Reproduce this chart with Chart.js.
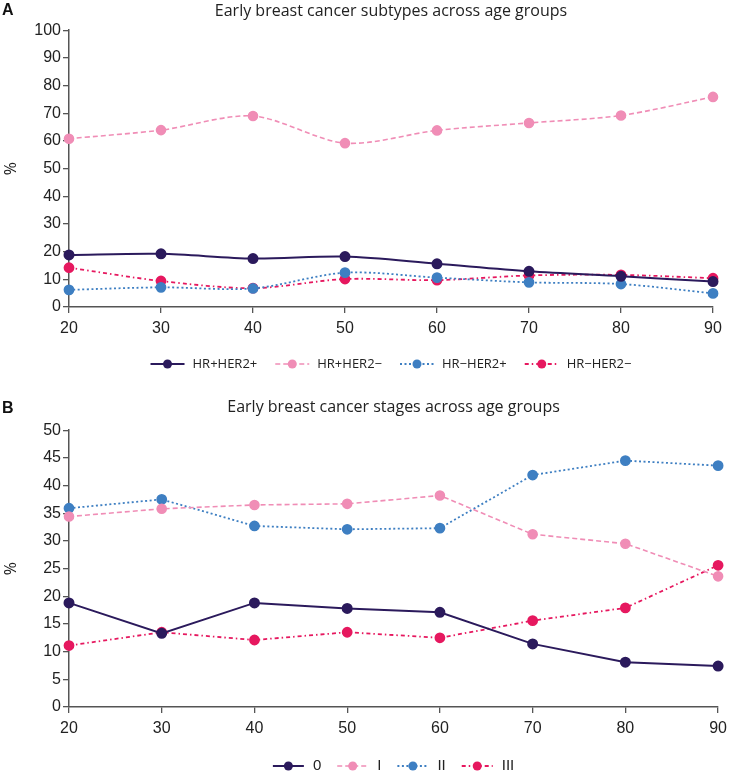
<!DOCTYPE html>
<html>
<head>
<meta charset="utf-8">
<script src="https://cdn.jsdelivr.net/npm/chart.js@4"></script>
<style>
  html, body { margin: 0; padding: 0; background: #fff; }
  body { width: 733px; height: 773px; position: relative; overflow: hidden; }
  .panel { position: absolute; left: 0; width: 733px; }
  .letter { position: absolute; left: 2px; font: bold 16px "Liberation Sans", Arial, sans-serif; color: #111; }
  canvas { display: block; }
</style>
</head>
<body>
<div class="panel" style="top:0;height:390px"><canvas id="cA" width="733" height="390"></canvas></div>
<div class="panel" style="top:392px;height:381px"><canvas id="cB" width="733" height="381"></canvas></div>
<div class="letter" style="top:1px">A</div>
<div class="letter" style="top:399px">B</div>
<script>
// ---- Data ----
const ages = [20, 30, 40, 50, 60, 70, 80, 90];

const titleA = "Early breast cancer subtypes across age groups";
const seriesNamesA = ["HR+HER2+", "HR+HER2\u2212", "HR\u2212HER2+", "HR\u2212HER2\u2212"];
const hrPosHer2Pos = [18.8, 19.2, 17.5, 18.2, 15.6, 12.9, 11.1, 9.2];
const hrPosHer2Neg = [60.8, 63.9, 69.0, 59.2, 63.8, 66.5, 69.2, 75.9];
const hrNegHer2Pos = [6.2, 7.1, 6.7, 12.4, 10.6, 8.9, 8.3, 4.9];
const hrNegHer2Neg = [14.2, 9.4, 6.8, 10.1, 9.7, 11.4, 11.6, 10.4];
const yTicksA = { min: 0, max: 100, step: 10 };

const titleB = "Early breast cancer stages across age groups";
const seriesNamesB = ["0", "I", "II", "III"];
const stage0 = [18.8, 13.3, 18.8, 17.8, 17.1, 11.4, 8.1, 7.4];
const stageI = [34.4, 35.8, 36.5, 36.7, 38.2, 31.2, 29.5, 23.6];
const stageII = [35.9, 37.5, 32.7, 32.1, 32.3, 41.9, 44.5, 43.6];
const stageIII = [11.1, 13.5, 12.1, 13.5, 12.5, 15.6, 17.9, 25.6];
const yTicksB = { min: 0, max: 50, step: 5 };

// ---- Styles ----
const COL = ["#2b1a5c", "#f08db6", "#3e7fc2", "#e6185f"];
const DASH = [[], [5, 3], [2, 2.5], [4, 3, 1.5, 3]];
const WID = [2, 1.6, 1.8, 1.8];
const tickFont = { family: "'Liberation Sans Narrow', 'Arial Narrow', 'Liberation Sans', Arial, sans-serif", size: 16 };
const titleFontFam = "'Open Sans', 'Noto Sans', sans-serif";
const AXIS = "#555";

function makeDatasets(names, arrays) {
  return arrays.map((arr, i) => ({
    label: names[i],
    data: arr,
    borderColor: COL[i],
    backgroundColor: COL[i],
    pointBackgroundColor: COL[i],
    pointBorderColor: COL[i],
    borderWidth: WID[i],
    borderDash: DASH[i],
    pointRadius: 4.5,
    pointHoverRadius: 4.5,
    fill: false
  }));
}

const legendPlugin = {
  id: 'lineLegend',
  afterDraw(chart, args, opts) {
    const ctx = chart.ctx;
    const ds = chart.data.datasets;
    ctx.save();
    ctx.font = opts.font;
    const lineLen = opts.lineLen, gap = opts.gap, itemGap = opts.itemGap;
    const widths = ds.map(d => lineLen + gap + ctx.measureText(d.label).width);
    const total = widths.reduce((a, b) => a + b, 0) + itemGap * (ds.length - 1);
    const ca = chart.chartArea;
    let x = (ca.left + ca.right) / 2 - total / 2;
    const y = opts.y;
    ds.forEach((d, i) => {
      ctx.strokeStyle = d.borderColor;
      ctx.lineWidth = d.borderWidth;
      ctx.setLineDash(d.borderDash);
      ctx.beginPath();
      ctx.moveTo(x, y);
      ctx.lineTo(x + lineLen, y);
      ctx.stroke();
      ctx.setLineDash([]);
      ctx.fillStyle = d.borderColor;
      ctx.beginPath();
      ctx.arc(x + lineLen / 2, y, 4.5, 0, Math.PI * 2);
      ctx.fill();
      ctx.fillStyle = "#222";
      ctx.textBaseline = "middle";
      ctx.textAlign = "left";
      ctx.fillText(d.label, x + lineLen + gap, y);
      x += widths[i] + itemGap;
    });
    ctx.restore();
  }
};

function makeChart(id, title, names, arrays, yt, cfg) {
  return new Chart(document.getElementById(id), {
    type: 'line',
    data: { labels: ages.map(String), datasets: makeDatasets(names, arrays) },
    options: {
      responsive: false,
      animation: false,
      devicePixelRatio: 1,
      layout: { padding: { left: 0, right: cfg.padRight, top: 0, bottom: cfg.padBottom } },
      elements: { line: { tension: cfg.tension } },
      plugins: {
        legend: { display: false },
        tooltip: { enabled: false },
        title: {
          display: true, text: title, fullSize: false,
          color: "#222",
          font: { family: titleFontFam, size: 16, weight: 'normal', lineHeight: 1.2 },
          padding: { top: cfg.titleTop, bottom: cfg.titleBottom }
        },
        lineLegend: cfg.legend
      },
      scales: {
        x: {
          type: 'category',
          offset: false,
          grid: { drawOnChartArea: false, drawTicks: true, tickLength: 6, color: AXIS, lineWidth: 1.3 },
          border: { display: true, color: AXIS, width: 1.5 },
          ticks: { color: "#222", font: tickFont, padding: 6, maxRotation: 0, autoSkip: false },
          afterFit(s) { s.height = 40; }
        },
        y: {
          min: yt.min, max: yt.max,
          grid: { drawOnChartArea: false, drawTicks: true, tickLength: 6, color: AXIS, lineWidth: 1.3 },
          border: { display: true, color: AXIS, width: 1.5 },
          ticks: { stepSize: yt.step, color: "#222", font: tickFont, padding: 2 },
          title: { display: true, text: "%", color: "#222", font: { family: titleFontFam, size: 16 }, padding: { top: 2, bottom: 4 } },
          afterFit(s) { s.width = 69; }
        }
      }
    },
    plugins: [legendPlugin]
  });
}

makeChart('cA', titleA, seriesNamesA, [hrPosHer2Pos, hrPosHer2Neg, hrNegHer2Pos, hrNegHer2Neg], yTicksA,
  { padRight: 20, padBottom: 390 - 307 - 40, tension: 0.3, titleTop: 2, titleBottom: 9,
    legend: { y: 364, lineLen: 34, gap: 8, itemGap: 18, font: "13px 'Open Sans', sans-serif" } });
makeChart('cB', titleB, seriesNamesB, [stage0, stageI, stageII, stageIII], yTicksB,
  { padRight: 11, padBottom: 381 - 315 - 40, tension: 0, titleTop: 6, titleBottom: 13,
    legend: { y: 374, lineLen: 31, gap: 9, itemGap: 16, font: "15px 'Liberation Sans', sans-serif" } });
</script>
</body>
</html>
